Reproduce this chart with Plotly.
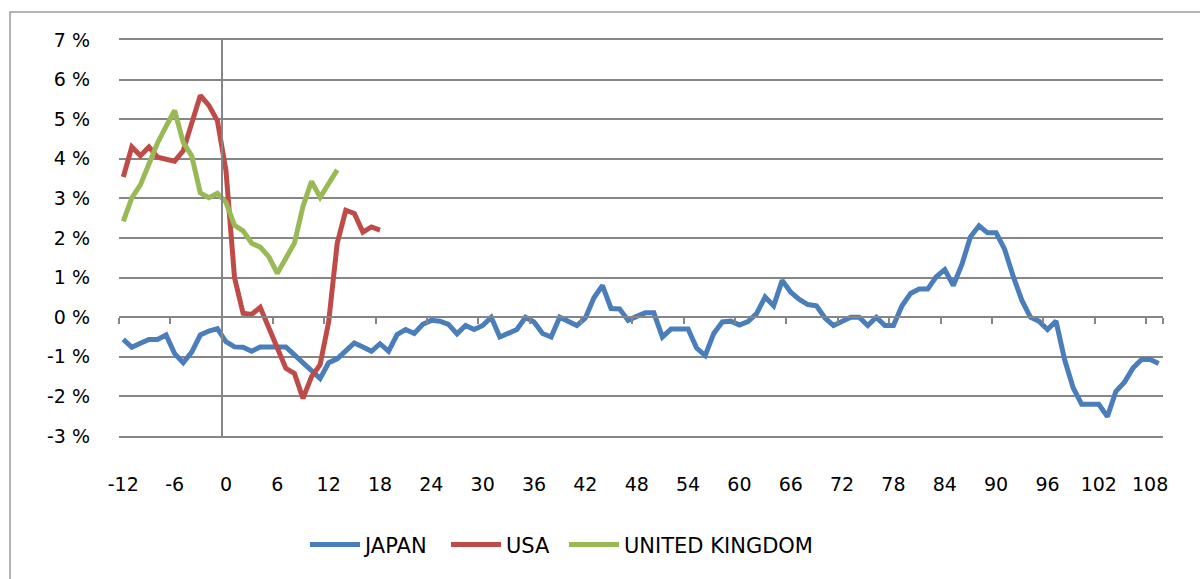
import plotly.graph_objects as go

# ---- data (percent) ----
japan_months = list(range(-12, 110))
japan_values = [
    -0.56, -0.76, -0.66, -0.56, -0.56, -0.45, -0.92, -1.15, -0.88, -0.45, -0.35, -0.29,
    -0.62, -0.75, -0.76, -0.86, -0.75, -0.75, -0.75, -0.75, -0.95, -1.15, -1.35, -1.55,
    -1.15, -1.05, -0.85, -0.65, -0.75, -0.86, -0.67, -0.86, -0.44, -0.31, -0.41, -0.18,
    -0.08, -0.10, -0.18, -0.42, -0.21, -0.31, -0.21, 0.00, -0.50, -0.41, -0.31, 0.00,
    -0.12, -0.41, -0.50, 0.00, -0.10, -0.21, -0.02, 0.49, 0.80, 0.22, 0.21, -0.08,
    0.02, 0.11, 0.11, -0.50, -0.30, -0.30, -0.30, -0.78, -0.97, -0.41, -0.12, -0.10,
    -0.20, -0.11, 0.09, 0.51, 0.29, 0.93, 0.63, 0.45, 0.32, 0.29, -0.02, -0.21,
    -0.10, 0.00, 0.00, -0.21, 0.00, -0.21, -0.21, 0.29, 0.60, 0.71, 0.71, 1.02,
    1.20, 0.80, 1.33, 2.03, 2.31, 2.13, 2.13, 1.71, 1.03, 0.43, 0.00, -0.10,
    -0.31, -0.10, -1.07, -1.78, -2.20, -2.20, -2.20, -2.51, -1.87, -1.64, -1.28, -1.07,
    -1.07, -1.17,
]

usa_months = list(range(-12, 19))
usa_values = [
    3.54, 4.30, 4.08, 4.30, 4.04, 3.98, 3.94, 4.20, 4.90, 5.60, 5.35, 4.96,
    3.70, 1.00, 0.10, 0.07, 0.25, -0.28, -0.74, -1.29, -1.42, -2.05, -1.50, -1.20,
    -0.12, 1.87, 2.70, 2.62, 2.15, 2.28, 2.20,
]

uk_months = list(range(-12, 14))
uk_values = [
    2.42, 3.01, 3.34, 3.89, 4.40, 4.82, 5.22, 4.42, 4.07, 3.14, 3.02, 3.13,
    2.90, 2.32, 2.18, 1.87, 1.77, 1.53, 1.11, 1.49, 1.87, 2.80, 3.43, 3.03,
    3.37, 3.72,
]

x_tick_values = list(range(-12, 109, 6))
x_tick_labels = [str(v) for v in x_tick_values]
y_tick_values = list(range(-3, 8))
y_tick_labels = [f"{v} %" for v in y_tick_values]

# ---- styling ----
FONT = "DejaVu Sans"
GRID = "#868686"
X_MIN, X_MAX = -12.5, 109.5
Y_MIN, Y_MAX = -3, 7
LW = 5

fig = go.Figure()
fig.add_trace(go.Scatter(x=japan_months, y=japan_values, mode="lines", name="JAPAN",
                         line=dict(color="#4A7EBB", width=LW), legend="legend"))
fig.add_trace(go.Scatter(x=usa_months, y=usa_values, mode="lines", name="USA",
                         line=dict(color="#BE4B48", width=LW), legend="legend2"))
fig.add_trace(go.Scatter(x=uk_months, y=uk_values, mode="lines", name="UNITED KINGDOM",
                         line=dict(color="#98B954", width=LW), legend="legend3"))

frac_zero_y = (0 - Y_MIN) / (Y_MAX - Y_MIN)
frac_axis_x = (-0.5 - X_MIN) / (X_MAX - X_MIN)


def legend_at(px_left):
    return dict(orientation="h", x=(px_left - 119) / 1044, xanchor="left",
                y=-0.275, yanchor="middle", itemwidth=50,
                font=dict(family=FONT, size=21, color="#000000"),
                bgcolor="rgba(0,0,0,0)")


fig.update_layout(
    width=1200, height=579,
    margin=dict(l=119, r=37, t=40, b=143),
    paper_bgcolor="white", plot_bgcolor="white",
    font=dict(family=FONT, size=19, color="#000000"),
    showlegend=True,
    legend=legend_at(305),
    legend2=legend_at(446),
    legend3=legend_at(564),
    xaxis=dict(range=[X_MIN, X_MAX], tickmode="array", tickvals=x_tick_values,
               ticktext=x_tick_labels, showgrid=False, zeroline=False,
               showline=True, mirror=True, linecolor=GRID, linewidth=1.5,
               ticks="", ticklabelstandoff=30),
    yaxis=dict(range=[Y_MIN, Y_MAX], tickmode="array", tickvals=y_tick_values,
               ticktext=y_tick_labels, showgrid=True, gridcolor=GRID, gridwidth=1.5,
               zeroline=False, showline=False, ticks="", ticklabelstandoff=28),
    # axis line through 0 % with tick marks between category groups
    xaxis2=dict(range=[X_MIN, X_MAX], overlaying="x", anchor="free", position=frac_zero_y,
                showline=True, linecolor=GRID, linewidth=1.5, ticks="outside",
                ticklen=6, tickwidth=1.5, tickcolor=GRID, tickmode="array",
                tickvals=[v - 0.5 for v in x_tick_values] + [X_MAX],
                showticklabels=False, showgrid=False, zeroline=False),
    # vertical value axis crossing at month 0
    yaxis2=dict(range=[Y_MIN, Y_MAX], overlaying="y", anchor="free", position=frac_axis_x,
                showline=True, linecolor=GRID, linewidth=1.5, ticks="",
                showticklabels=False, showgrid=False, zeroline=False),
)

# invisible helper trace so the overlay axes are drawn
fig.add_trace(go.Scatter(x=[X_MIN], y=[Y_MIN], xaxis="x2", yaxis="y2", mode="lines",
                         showlegend=False, hoverinfo="skip", line=dict(width=0)))

# outer chart border
fig.add_shape(type="rect", xref="paper", yref="paper",
              x0=(10 - 119) / 1044, x1=(1210 - 119) / 1044,
              y0=(436 - 590) / 396, y1=(436 - 12) / 396,
              line=dict(color="#9A9A9A", width=1.5), fillcolor="rgba(0,0,0,0)", layer="below")

fig.write_html("out.html")
